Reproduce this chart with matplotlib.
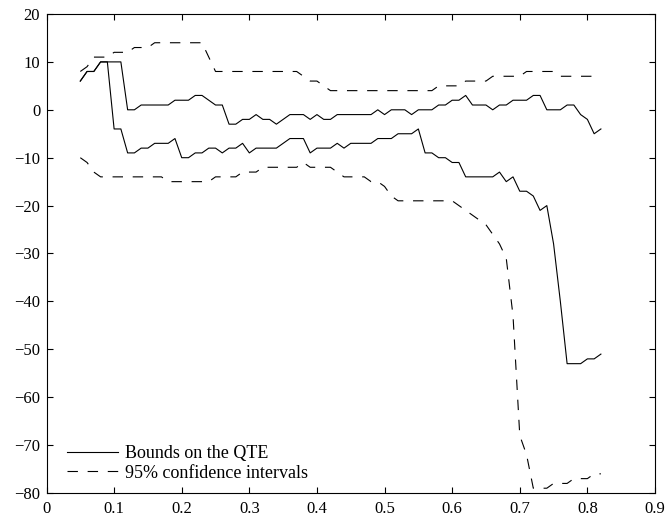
import numpy as np
import matplotlib
matplotlib.use("Agg")
import matplotlib.pyplot as plt

plt.rcParams['font.family'] = ['Liberation Serif', 'DejaVu Serif']
plt.rcParams['lines.scale_dashes'] = False

# quantile levels 0.05 ... 0.82
tau = np.linspace(0.05, 0.82, 78)

# upper / lower bounds on the QTE
upper = [6, 8, 8, 10, 10, 10, 10, 0, 0, 1,
         1, 1, 1, 1, 2, 2, 2, 3, 3, 2,
         1, 1, -3, -3, -2, -2, -1, -2, -2, -3,
         -2, -1, -1, -1, -2, -1, -2, -2, -1, -1,
         -1, -1, -1, -1, 0, -1, 0, 0, 0, -1,
         0, 0, 0, 1, 1, 2, 2, 3, 1, 1,
         1, 0, 1, 1, 2, 2, 2, 3, 3, 0,
         0, 0, 1, 1, -1, -2, -5, -4]
lower = [6, 8, 8, 10, 10, -4, -4, -9, -9, -8,
         -8, -7, -7, -7, -6, -10, -10, -9, -9, -8,
         -8, -9, -8, -8, -7, -9, -8, -8, -8, -8,
         -7, -6, -6, -6, -9, -8, -8, -8, -7, -8,
         -7, -7, -7, -7, -6, -6, -6, -5, -5, -5,
         -4, -9, -9, -10, -10, -11, -11, -14, -14, -14,
         -14, -14, -13, -15, -14, -17, -17, -18, -21, -20,
         -28, -40, -53, -53, -53, -52, -52, -51]

# 95% confidence intervals
ci_up = [8, 9, 11, 11, 11, 12, 12, 12, 13, 13,
         13, 14, 14, 14, 14, 14, 14, 14, 14, 11,
         8, 8, 8, 8, 8, 8, 8, 8, 8, 8,
         8, 8, 8, 7, 6, 6, 5, 4, 4, 4,
         4, 4, 4, 4, 4, 4, 4, 4, 4, 4,
         4, 4, 4, 5, 5, 5, 5, 6, 6, 6,
         6, 7, 7, 7, 7, 7, 8, 8, 8, 8,
         8, 7, 7, 7, 7, 7, 7, 7]
ci_lo = [-10, -11, -13, -14, -14, -14, -14, -14, -14, -14,
         -14, -14, -14, -15, -15, -15, -15, -15, -15, -15,
         -14, -14, -14, -14, -13, -13, -13, -12, -12, -12,
         -12, -12, -12, -11, -12, -12, -12, -12, -13, -14,
         -14, -14, -14, -15, -15, -16, -18, -19, -19, -19,
         -19, -19, -19, -19, -19, -19, -20, -21, -22, -23,
         -24, -26, -28, -31, -43, -68, -72, -79, -79, -79,
         -78, -78, -78, -77, -77, -77, -76, -76]

fig = plt.figure(figsize=(6.67, 5.21), dpi=100)
ax = fig.add_axes([46.5/667, 28/521, 608.5/667, 479/521])

ax.plot(tau, upper, 'k-', lw=0.8, label='Bounds on the QTE')
ax.plot(tau, lower, 'k-', lw=0.8)
ax.plot(tau, ci_up, 'k', lw=0.8, dashes=(7.5, 7), label='95% confidence intervals')
ax.plot(tau, ci_lo, 'k', lw=0.8, dashes=(7.5, 7))

ax.set_xlim(0, 0.9)
ax.set_ylim(-80, 20)
ax.set_xticks(np.arange(0, 0.91, 0.1))
ax.set_xticklabels(['0', '0.1', '0.2', '0.3', '0.4', '0.5', '0.6', '0.7', '0.8', '0.9'])
ax.set_yticks(np.arange(-80, 21, 10))
ax.tick_params(direction='in', length=4, width=0.8, top=True, right=True,
               labelsize=12)
ax.tick_params(axis='x', pad=6)
ax.tick_params(axis='y', pad=4.5)
for s in ax.spines.values():
    s.set_linewidth(0.8)

ax.legend(loc='lower left', bbox_to_anchor=(0.034, 0.024), frameon=False,
          fontsize=13, handlelength=2.8, handletextpad=0.4,
          borderaxespad=0, borderpad=0, labelspacing=0.12)

fig.savefig('out.png', dpi=100)
